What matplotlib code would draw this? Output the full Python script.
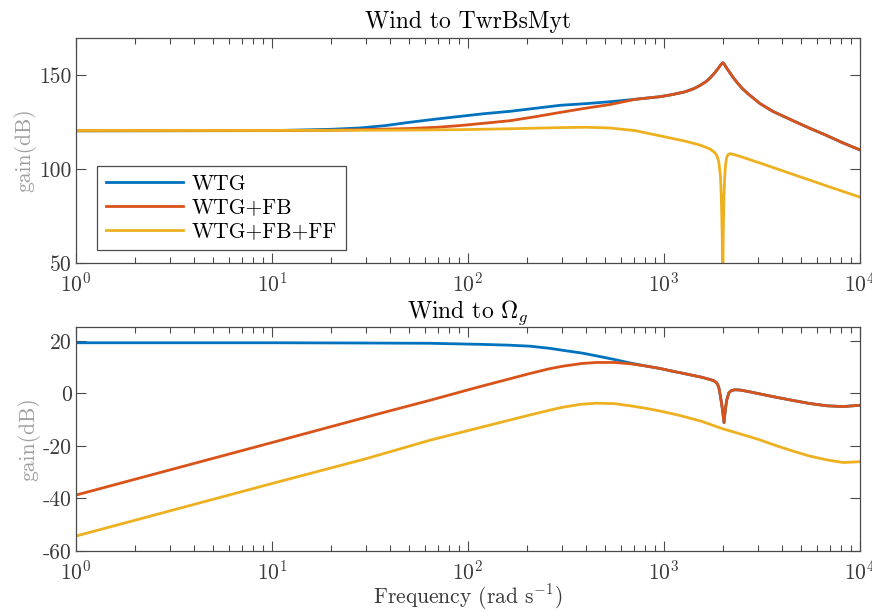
import matplotlib
matplotlib.use("Agg")
import matplotlib.pyplot as plt
from matplotlib.ticker import FixedLocator, FuncFormatter, LogLocator, NullFormatter

plt.rcParams["font.family"] = "serif"
plt.rcParams["font.serif"] = ["cmr10"]
plt.rcParams["mathtext.fontset"] = "cm"
plt.rcParams["axes.formatter.use_mathtext"] = True
plt.rcParams["axes.unicode_minus"] = False

# series names and colours (MATLAB default order)
labels = ["WTG", "WTG+FB", "WTG+FB+FF"]
colors = ["#0072BD", "#D95319", "#EDB120"]

# --- Wind to TwrBsMyt (dB) ---
top_wtg_f = [1, 10, 20, 28, 38, 50, 68, 91, 120, 164, 220, 295, 400, 530, 711, 955, 1100,
             1280, 1420, 1526, 1640, 1718, 1800, 1880, 1950, 1993, 2030, 2080, 2150, 2250,
             2349, 2500, 2700, 3090, 3600, 4571, 5500, 6760, 8200, 10000]
top_wtg = [120.5, 120.6, 121.3, 122.0, 123.3, 125.0, 126.7, 128.2, 129.6, 130.9, 132.5,
           134.1, 135.0, 136.0, 137.3, 138.7, 139.8, 141.3, 143.0, 144.7, 146.8, 148.7,
           151.0, 153.5, 155.8, 156.8, 156.0, 154.2, 152.0, 149.0, 146.5, 143.2, 140.0,
           135.0, 130.8, 125.8, 122.0, 118.0, 114.0, 110.3]

top_fb_f = [1, 10, 20, 28, 50, 70, 91, 120, 164, 220, 295, 400, 530, 711, 955, 1100,
            1280, 1420, 1526, 1640, 1718, 1800, 1880, 1950, 1993, 2030, 2080, 2150, 2250,
            2349, 2500, 2700, 3090, 3600, 4571, 5500, 6760, 8200, 10000]
top_fb = [120.5, 120.6, 120.8, 121.1, 121.7, 122.4, 123.3, 124.5, 125.9, 128.0, 130.3,
          132.6, 134.5, 137.3, 138.7, 139.8, 141.3, 143.0, 144.7, 146.8, 148.7, 151.0,
          153.5, 155.8, 156.8, 156.0, 154.2, 152.0, 149.0, 146.5, 143.2, 140.0, 135.0,
          130.8, 125.8, 122.0, 118.0, 114.0, 110.3]

top_ff_f = [1, 10, 28, 50, 91, 164, 295, 400, 530, 711, 955, 1280, 1526, 1718, 1800,
            1857, 1902, 1941, 1960, 1980, 1992, 2005, 2020, 2040, 2060, 2089, 2130, 2172,
            2300, 2500, 3090, 4571, 6760, 10000]
top_ff = [120.7, 120.7, 120.8, 120.9, 121.1, 121.6, 122.2, 122.4, 122.0, 120.6, 117.8,
          115.0, 112.9, 110.8, 109.2, 107.5, 104.0, 96.0, 85.0, 65.0, 30.0, 65.0, 85.0,
          96.0, 102.5, 106.5, 108.0, 108.3, 107.7, 106.5, 103.3, 97.2, 91.1, 85.1]

# --- Wind to Omega_g (dB) ---
bot_wtg_f = [1, 10, 30, 64, 115, 160, 207, 260, 306, 380, 453, 560, 671, 800, 955, 1100,
             1207, 1358, 1550, 1718, 1800, 1857, 1900, 1941, 1985, 2023, 2055, 2089, 2140,
             2204, 2300, 2444, 2700, 3090, 3700, 4571, 5500, 6760, 8200, 10000]
bot_wtg = [19.3, 19.3, 19.2, 19.1, 18.7, 18.4, 18.0, 17.2, 16.4, 15.4, 14.3, 12.9, 11.6,
           10.5, 9.5, 8.5, 7.9, 7.1, 6.2, 5.3, 4.8, 4.0, 2.5, -1.2, -6.0, -11.1, -6.0,
           -2.5, 0.2, 1.1, 1.4, 1.3, 0.7, -0.2, -1.4, -2.7, -3.8, -4.7, -5.0, -4.5]

bot_fb_f = [1, 10, 35.6, 64, 115, 160, 207, 260, 306, 380, 453, 560, 671, 800, 955, 1100,
            1207, 1358, 1550, 1718, 1800, 1857, 1900, 1941, 1985, 2023, 2055, 2089, 2140,
            2204, 2300, 2444, 2700, 3090, 3700, 4571, 5500, 6760, 8200, 10000]
bot_fb = [-38.7, -18.7, -7.6, -2.6, 2.6, 5.4, 7.6, 9.4, 10.4, 11.4, 11.8, 11.8, 11.3,
          10.5, 9.5, 8.5, 7.9, 7.1, 6.2, 5.3, 4.8, 4.0, 2.5, -1.2, -6.0, -11.1, -6.0,
          -2.5, 0.2, 1.1, 1.4, 1.3, 0.7, -0.2, -1.4, -2.7, -3.8, -4.7, -5.0, -4.5]

bot_ff_f = [1, 10, 30, 64, 115, 160, 207, 260, 306, 380, 453, 560, 671, 800, 955, 1207,
            1550, 2020, 2500, 3090, 3700, 4571, 5500, 6760, 8200, 10000]
bot_ff = [-54.3, -34.3, -24.9, -17.8, -13.0, -10.3, -8.2, -6.4, -5.2, -4.1, -3.7, -3.9,
          -4.7, -5.6, -6.7, -8.4, -10.6, -13.6, -15.6, -17.7, -19.8, -22.0, -23.8, -25.3,
          -26.3, -26.0]

top_ticks = [50, 100, 150]
bot_ticks = [-60, -40, -20, 0, 20]

spine_col = "#4a4a4a"
tick_col = "#3a3a3a"
fs = 15.5

fig = plt.figure(figsize=(8.72, 6.11), dpi=100)
ax1 = fig.add_axes([0.0872, 0.5696, 0.8991, 0.3682])
ax2 = fig.add_axes([0.0872, 0.0982, 0.8991, 0.3666])


def style(ax, ticks, ylim):
	ax.set_xscale("log")
	ax.set_xlim(1, 1e4)
	ax.set_ylim(*ylim)
	ax.yaxis.set_major_locator(FixedLocator(ticks))
	ax.yaxis.set_major_formatter(FuncFormatter(lambda v, p: "%d" % v))
	ax.xaxis.set_major_locator(LogLocator(base=10, numticks=10))
	ax.xaxis.set_minor_locator(LogLocator(base=10, subs=range(2, 10), numticks=10))
	ax.xaxis.set_minor_formatter(NullFormatter())
	ax.tick_params(which="both", direction="in", top=True, right=True,
		colors=spine_col, labelcolor=tick_col, labelsize=fs, width=0.8)
	ax.tick_params(which="major", length=7)
	ax.tick_params(which="minor", length=4)
	ax.tick_params(axis="x", pad=6)
	ax.tick_params(axis="y", pad=3)
	for s in ax.spines.values():
		s.set_color(spine_col)
		s.set_linewidth(0.9)
	ax.set_ylabel("gain(dB)", fontsize=fs, color="#a0a0a0", labelpad=2)


for f, g, c, lab in zip([top_wtg_f, top_fb_f, top_ff_f], [top_wtg, top_fb, top_ff], colors, labels):
	ax1.plot(f, g, color=c, lw=2, label=lab)
style(ax1, top_ticks, (50, 170))
ax1.set_title("Wind to TwrBsMyt", fontsize=17, pad=7)
leg = ax1.legend(loc="lower left", bbox_to_anchor=(0.027, 0.058), borderaxespad=0,
	fontsize=fs, handlelength=3.6, labelspacing=0.2, fancybox=False, framealpha=1,
	edgecolor=spine_col, borderpad=0.4, handletextpad=0.4)
leg.get_frame().set_linewidth(0.9)

for f, g, c in zip([bot_wtg_f, bot_fb_f, bot_ff_f], [bot_wtg, bot_fb, bot_ff], colors):
	ax2.plot(f, g, color=c, lw=2)
style(ax2, bot_ticks, (-60, 25.3))
ax2.set_title(r"Wind to $\Omega_g$", fontsize=17, pad=5)
ax2.set_xlabel(r"Frequency (rad s$^{-1}$)", fontsize=fs, color=tick_col, labelpad=-1)

fig.savefig("out.png", dpi=100)
